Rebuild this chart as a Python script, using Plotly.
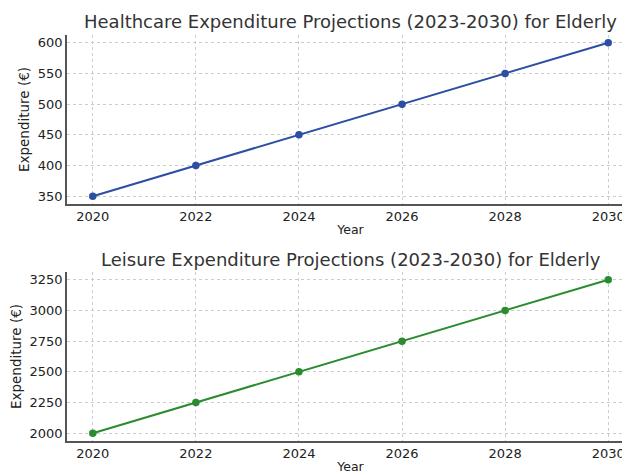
import plotly.graph_objects as go

years = [2020, 2022, 2024, 2026, 2028, 2030]
healthcare = [350, 400, 450, 500, 550, 600]
leisure = [2000, 2250, 2500, 2750, 3000, 3250]
x_ticks = [2020, 2022, 2024, 2026, 2028, 2030]
y_ticks_top = [350, 400, 450, 500, 550, 600]
y_ticks_bottom = [2000, 2250, 2500, 2750, 3000, 3250]
title_top = "Healthcare Expenditure Projections (2023-2030) for Elderly"
title_bottom = "Leisure Expenditure Projections (2023-2030) for Elderly"

W, H = 630, 474
OFF = 8  # page body margin offset
FONT = "DejaVu Sans"

fig = go.Figure()
fig.add_trace(go.Scatter(x=years, y=healthcare, mode="lines+markers",
                         line=dict(color="#2c4fa3", width=2),
                         marker=dict(color="#2c4fa3", size=7.5),
                         xaxis="x", yaxis="y", showlegend=False))
fig.add_trace(go.Scatter(x=years, y=leisure, mode="lines+markers",
                         line=dict(color="#2a8c2e", width=2),
                         marker=dict(color="#2a8c2e", size=7.5),
                         xaxis="x2", yaxis="y2", showlegend=False))

def px_y(top, bottom):
    return [1 - (bottom - OFF) / H, 1 - (top - OFF) / H]

xdom = [(67 - OFF) / W, (634 - OFF) / W]
xrange_ = [2019.5, 2030.5]

axis_common = dict(showline=True, linecolor="#555555", linewidth=1.5,
                   showgrid=True, gridcolor="#cccccc", griddash="dot", gridwidth=1,
                   zeroline=False, ticks="", automargin=False,
                   tickfont=dict(family=FONT, size=13, color="#222222"))

fig.update_layout(
    width=W, height=H,
    margin=dict(l=0, r=0, t=0, b=0),
    paper_bgcolor="white", plot_bgcolor="white",
    font=dict(family=FONT, color="#222222"),
    xaxis=dict(domain=xdom, range=xrange_, tickvals=x_ticks, anchor="y",
               title=dict(text="Year", font=dict(size=12.5, family=FONT), standoff=2), **axis_common),
    yaxis=dict(domain=px_y(35, 204), range=[337.5, 612.5], tickvals=y_ticks_top, anchor="x",
               title=dict(text="Expenditure (€)", font=dict(size=13.5, family=FONT), standoff=5), **axis_common),
    xaxis2=dict(domain=xdom, range=xrange_, tickvals=x_ticks, anchor="y2",
                title=dict(text="Year", font=dict(size=12.5, family=FONT), standoff=2), **axis_common),
    yaxis2=dict(domain=px_y(272, 441), range=[1937.5, 3312.5], tickvals=y_ticks_bottom, anchor="x2",
                title=dict(text="Expenditure (€)", font=dict(size=13.5, family=FONT), standoff=5), **axis_common),
    annotations=[
        dict(text=title_top, x=(350.5 - OFF) / W, y=1 - (22 - OFF) / H, xref="paper", yref="paper",
             xanchor="center", yanchor="middle", showarrow=False,
             font=dict(family=FONT, size=18, color="#333333")),
        dict(text=title_bottom, x=(350.5 - OFF) / W, y=1 - (259 - OFF) / H, xref="paper", yref="paper",
             xanchor="center", yanchor="middle", showarrow=False,
             font=dict(family=FONT, size=18, color="#333333")),
    ],
)

fig.write_html("out.html")
